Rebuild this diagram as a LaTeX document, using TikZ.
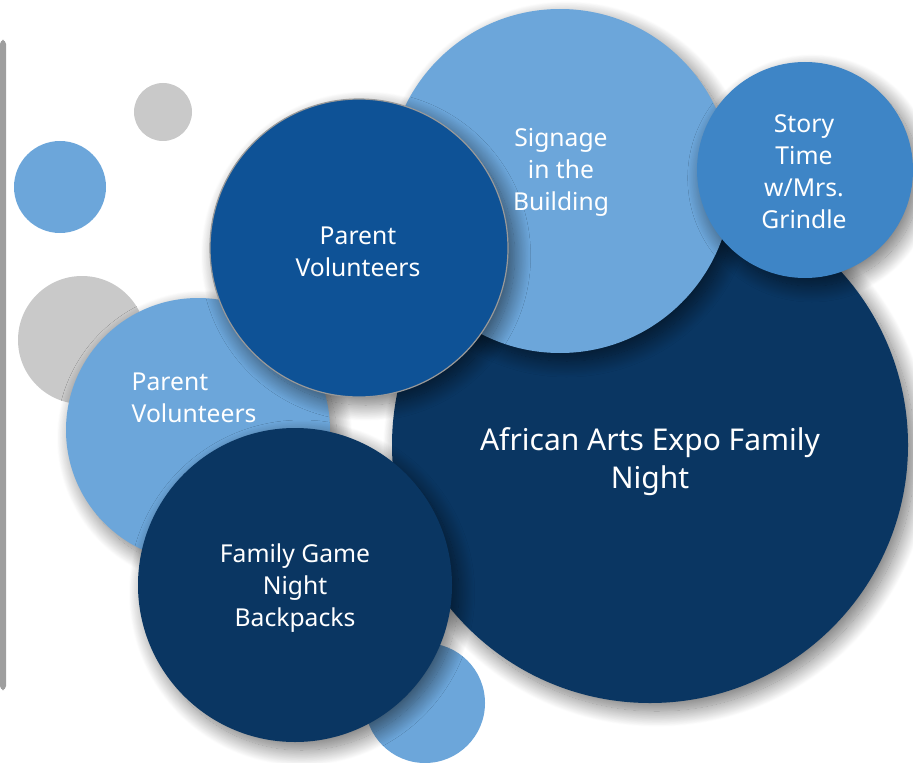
\documentclass[tikz,border=0pt]{standalone}
\usepackage{fontspec}
\setmainfont{Noto Sans}
\usetikzlibrary{shadows.blur}

\definecolor{lightblue}{HTML}{6CA6DA}
\definecolor{navy}{HTML}{0A3662}
\definecolor{midblue}{HTML}{0E5296}
\definecolor{storyblue}{HTML}{3E85C6}
\definecolor{dotgrey}{HTML}{C9C9C9}
\definecolor{bargrey}{HTML}{9E9E9E}

\begin{document}
\begin{tikzpicture}[
    x=0.75pt, y=-0.75pt,
    bubble/.style={circle, inner sep=0pt, minimum size=1.5pt*#1},
    shade/.style={blur shadow={shadow xshift=5pt, shadow yshift=-6pt,
                  shadow blur radius=12pt, shadow blur steps=25, shadow opacity=55}},
    txt/.style={text=white, align=center, font=\fontsize{18.5}{24}\selectfont},
    bigtxt/.style={text=white, align=center, font=\fontsize{22.5}{28.5}\selectfont}
]
    \useasboundingbox (0,0) rectangle (913,763);
    \fill[bargrey, rounded corners=3pt] (0,40) rectangle (6,690);

    % small dots behind
    \node[bubble=29, fill=dotgrey] (dot1) at (163,112) {};
    \node[bubble=46, fill=lightblue] (dot2) at (60,187) {};
    \node[bubble=64, fill=dotgrey] (dot3) at (82,340) {};

    % big circles
    \node[bubble=258, fill=navy, shade] (expo) at (650,445) {};
    \node[bubble=172, fill=lightblue, shade] (signage) at (560,181) {};
    \node[bubble=108, fill=storyblue, shade] (story) at (805,170) {};
    \node[bubble=132, fill=lightblue, shade] (parentL) at (198,430) {};
    \node[bubble=149, fill=midblue, draw=gray!80, line width=0.9pt, shade] (parentD) at (359,248) {};
    \node[bubble=60, fill=lightblue] (dot4) at (425,703) {};
    \node[bubble=157, fill=navy, shade] (game) at (295,585) {};

    % labels
    \node[txt] (signage-txt) at (561,172) {Signage\\in the\\Building};
    \node[txt] (story-txt) at (804,172) {Story\\Time\\w/Mrs.\\Grindle};
    \node[txt] (parentD-txt) at (358,252) {Parent\\Volunteers};
    \node[txt, align=left, anchor=west] (parentL-txt) at (127,398) {Parent\\Volunteers};
    \node[bigtxt] (expo-txt) at (650,462) {African Arts Expo Family\\Night};
    \node[txt] (game-txt) at (295,588) {Family Game\\Night\\Backpacks};
\end{tikzpicture}
\end{document}
